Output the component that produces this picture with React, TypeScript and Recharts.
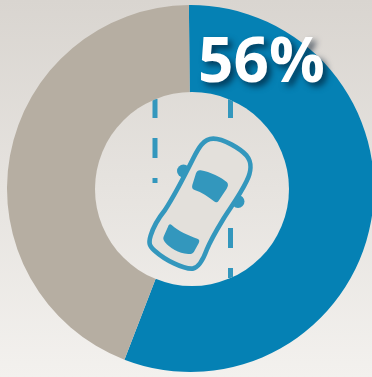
import React from "react";
import { PieChart, Pie, Cell } from "recharts";

const categories = ["Yes", "No"];
const values = [56, 44];
const colors = ["#0581b4", "#b6aea2"];
const headline = "56%";

const table = categories.map((name, i) => ({ name, value: values[i] }));
const iconColor = "#3397bd";
const bgTop = "#d9d5d0";
const bgBottom = "#f3f1ee";

const leftDashes = [[99, 19], [138, 20], [178, 5]];
const rightDashes = [[99, 19], [228, 20], [268, 10]];

export default function App() {
  return (
    <div
      style={{
        position: "absolute",
        left: 0,
        top: 0,
        width: 372,
        height: 377,
        overflow: "hidden",
        background: `linear-gradient(180deg,${bgTop} 0%,${bgBottom} 100%)`,
      }}
    >
      <PieChart width={372} height={377} margin={{ top: 0, right: 0, bottom: 0, left: 0 }}>
        <Pie
          data={table}
          dataKey="value"
          nameKey="name"
          cx={190.5}
          cy={188.5}
          innerRadius={88}
          outerRadius={183.5}
          startAngle={90.5}
          endAngle={-269.5}
          stroke="none"
          isAnimationActive={false}
        >
          {table.map((d, i) => (
            <Cell key={d.name} fill={colors[i]} />
          ))}
        </Pie>
      </PieChart>
      <svg width={372} height={377} style={{ position: "absolute", left: 0, top: 0 }}>
        <defs>
          <linearGradient id="hole" gradientUnits="userSpaceOnUse" x1={0} y1={0} x2={0} y2={377}>
            <stop offset="0%" stopColor={bgTop} />
            <stop offset="100%" stopColor={bgBottom} />
          </linearGradient>
          <clipPath id="holeClip">
            <circle cx={192} cy={189} r={97} />
          </clipPath>
        </defs>
        <circle cx={192} cy={189} r={97} fill="url(#hole)" />
        <g clipPath="url(#holeClip)">
          {leftDashes.map(([y, h]) => (
            <rect key={y} x={152.5} y={y} width={5} height={h} fill={iconColor} />
          ))}
          {rightDashes.map(([y, h]) => (
            <rect key={y} x={228} y={y} width={5} height={h} fill={iconColor} />
          ))}
        </g>
        <circle cx={183.5} cy={171} r={6.5} fill={iconColor} />
        <circle cx={238} cy={201.5} r={6.5} fill={iconColor} />
        <path
          transform="translate(90,85) scale(0.3333)"
          d="M370 161 C400 161 450 190 470 212 C487 232 483 262 470 288 C450 330 420 370 400 402 C380 435 362 465 350 495 C340 522 325 548 308 551 C280 553 225 525 195 498 C178 483 175 475 182 452 C190 425 205 400 225 375 C255 330 285 270 310 220 C325 190 340 161 370 161 Z"
          fill="#e3e0db"
          stroke={iconColor}
          strokeWidth={14}
        />
        <g transform="translate(90,85) scale(0.3333)">
          <path
            d="M332 256 C360 260 395 278 411 292 C416 298 414 305 410 311 L386 347 C382 353 377 353 372 349 C355 335 335 322 314 315 C307 312 305 308 307 300 L318 265 C321 258 325 255 332 256 Z"
            fill={iconColor}
          />
          <path
            d="M245 420 C265 438 295 452 322 461 C329 463 329 468 326 475 L312 500 C308 506 303 508 295 507 C265 504 240 490 224 470 C219 463 219 458 222 452 L234 425 C237 418 240 416 245 420 Z"
            fill={iconColor}
          />
        </g>
        <text
          x={198}
          y={82}
          fontFamily="'Open Sans', sans-serif"
          fontWeight={700}
          fontSize={62}
          fill="#ffffff"
          style={{ filter: "drop-shadow(4px 4px 3px rgba(0,20,40,0.65))" }}
        >
          {headline}
        </text>
      </svg>
    </div>
  );
}
